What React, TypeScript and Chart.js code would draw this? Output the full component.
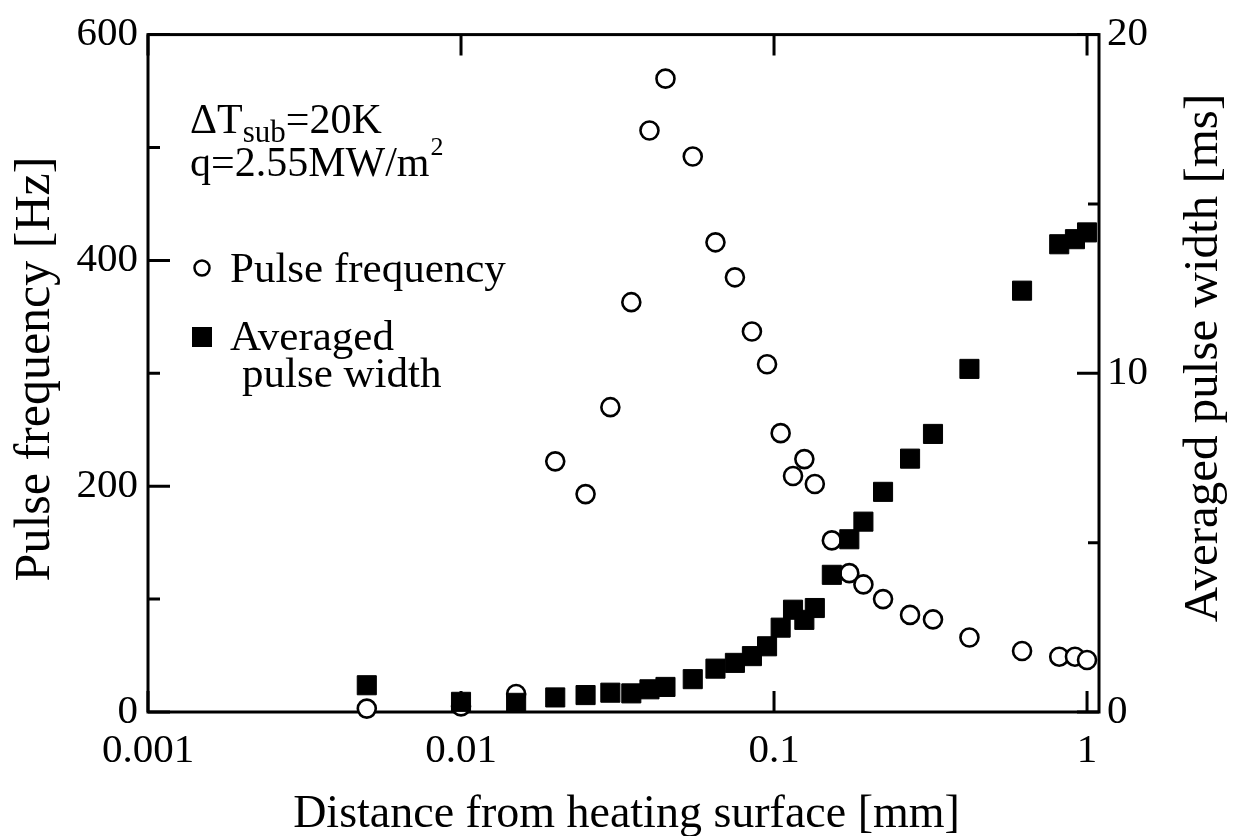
import React, { useEffect, useRef } from 'react';
import { Chart, registerables } from 'chart.js';

Chart.register(...registerables);

// Distance from heating surface [mm]
const distance = [
  0.005, 0.01, 0.015, 0.02, 0.025, 0.03, 0.035, 0.04, 0.045, 0.055,
  0.065, 0.075, 0.085, 0.095, 0.105, 0.115, 0.125, 0.135, 0.153, 0.174,
  0.193, 0.223, 0.272, 0.322, 0.421, 0.62, 0.815, 0.915, 1.0,
];
// Pulse frequency [Hz]
const pulseFrequency = [
  3, 5, 16, 222, 193, 270, 363, 515, 561, 492,
  416, 385, 337, 308, 247, 209, 224, 202, 152, 123,
  113, 100, 86, 82, 66, 54, 49, 49, 46,
];
// Averaged pulse width [ms]
const pulseWidth = [
  0.79, 0.30, 0.27, 0.43, 0.50, 0.57, 0.55, 0.67, 0.74, 0.97,
  1.28, 1.45, 1.65, 1.94, 2.49, 3.02, 2.72, 3.07, 4.05, 5.10,
  5.62, 6.50, 7.48, 8.21, 10.13, 12.44, 13.81, 13.96, 14.16,
];

const xTicks = [0.001, 0.01, 0.1, 1];
const xTickLabels = ['0.001', '0.01', '0.1', '1'];
const leftTicks = [0, 200, 400, 600];
const leftMinorTicks = [100, 300, 500];
const rightTicks = [0, 10, 20];
const rightMinorTicks = [5, 15];

const SERIF = '"Liberation Serif", "Times New Roman", Times, serif';

const framePlugin = {
  id: 'framePlugin',
  beforeDatasetsDraw(chart: any) {
    const { ctx, chartArea, scales } = chart;
    const { left, right, top, bottom } = chartArea;
    ctx.save();
    ctx.strokeStyle = '#000';
    ctx.lineWidth = 3;
    ctx.lineCap = 'butt';
    ctx.strokeRect(left, top, right - left, bottom - top);
    ctx.beginPath();
    xTicks.forEach((v) => {
      const px = scales.x.getPixelForValue(v);
      ctx.moveTo(px, bottom);
      ctx.lineTo(px, bottom - 21);
      ctx.moveTo(px, top);
      ctx.lineTo(px, top + 21);
    });
    leftTicks.forEach((v) => {
      const py = scales.y.getPixelForValue(v);
      ctx.moveTo(left, py);
      ctx.lineTo(left + 22, py);
    });
    leftMinorTicks.forEach((v) => {
      const py = scales.y.getPixelForValue(v);
      ctx.moveTo(left, py);
      ctx.lineTo(left + 12, py);
    });
    rightTicks.forEach((v) => {
      const py = scales.y1.getPixelForValue(v);
      ctx.moveTo(right, py);
      ctx.lineTo(right - 22, py);
    });
    rightMinorTicks.forEach((v) => {
      const py = scales.y1.getPixelForValue(v);
      ctx.moveTo(right, py);
      ctx.lineTo(right - 11, py);
    });
    ctx.stroke();
    ctx.restore();
  },
  afterDraw(chart: any) {
    const { ctx, chartArea } = chart;
    ctx.save();
    ctx.fillStyle = '#000';
    ctx.strokeStyle = '#000';

    // Annotation
    ctx.textAlign = 'left';
    ctx.textBaseline = 'alphabetic';
    let x = 190;
    ctx.font = `42px ${SERIF}`;
    ctx.fillText('ΔT', x, 133);
    x += ctx.measureText('ΔT').width;
    ctx.font = `31px ${SERIF}`;
    ctx.fillText('sub', x, 142);
    x += ctx.measureText('sub').width;
    ctx.font = `42px ${SERIF}`;
    ctx.fillText('=20K', x, 133);

    x = 190;
    ctx.fillText('q=2.55MW/m', x, 176);
    x += ctx.measureText('q=2.55MW/m').width;
    ctx.font = `26px ${SERIF}`;
    ctx.fillText('2', x + 1, 155);

    // Legend
    ctx.lineWidth = 2.5;
    ctx.beginPath();
    ctx.arc(202, 268, 7.5, 0, Math.PI * 2);
    ctx.fillStyle = '#fff';
    ctx.fill();
    ctx.stroke();
    ctx.fillStyle = '#000';
    ctx.fillRect(192, 327, 20, 20);
    ctx.font = `43px ${SERIF}`;
    ctx.fillText('Pulse frequency', 230, 282);
    ctx.fillText('Averaged', 230, 350);
    ctx.fillText('pulse width', 242, 387);

    // Axis titles
    ctx.textAlign = 'center';
    ctx.textBaseline = 'middle';
    ctx.font = `50px ${SERIF}`;
    ctx.save();
    ctx.translate(36, 369);
    ctx.rotate(-Math.PI / 2);
    ctx.fillText('Pulse frequency [Hz]', 0, 0);
    ctx.restore();

    ctx.font = `49px ${SERIF}`;
    ctx.save();
    ctx.translate(1204, 358);
    ctx.rotate(-Math.PI / 2);
    ctx.fillText('Averaged pulse width [ms]', 0, 0);
    ctx.restore();

    ctx.font = `46px ${SERIF}`;
    ctx.textBaseline = 'alphabetic';
    ctx.fillText('Distance from heating surface [mm]', (chartArea.left + chartArea.right) / 2 + 3, 827);
    ctx.restore();
  },
};

export default function App() {
  const canvasRef = useRef<HTMLCanvasElement | null>(null);

  useEffect(() => {
    if (!canvasRef.current) return;
    const tickFont = { family: SERIF, size: 41 };
    const chart = new Chart(canvasRef.current, {
      type: 'scatter',
      data: {
        datasets: [
          {
            label: 'Averaged pulse width',
            data: distance.map((d, i) => ({ x: d, y: pulseWidth[i] })),
            yAxisID: 'y1',
            pointStyle: 'rect',
            pointRadius: 13.5,
            pointHoverRadius: 13.5,
            backgroundColor: '#000',
            borderColor: '#000',
            borderWidth: 1,
            clip: false,
          } as any,
          {
            label: 'Pulse frequency',
            data: distance.map((d, i) => ({ x: d, y: pulseFrequency[i] })),
            yAxisID: 'y',
            pointStyle: 'circle',
            pointRadius: 9,
            pointHoverRadius: 9,
            backgroundColor: '#fff',
            borderColor: '#000',
            borderWidth: 2.6,
            clip: false,
          } as any,
        ],
      },
      options: {
        animation: false,
        responsive: false,
        events: [],
        layout: { padding: { top: 31, left: 0, right: 0, bottom: 0 } },
        plugins: {
          legend: { display: false },
          tooltip: { enabled: false },
        },
        scales: {
          x: {
            type: 'logarithmic',
            position: 'bottom',
            min: 0.001,
            max: 1.092,
            grid: { display: false, drawTicks: false },
            border: { display: false },
            afterBuildTicks: (s: any) => {
              s.ticks = xTicks.map((v) => ({ value: v }));
            },
            afterFit: (s: any) => {
              s.height = 124;
            },
            ticks: {
              autoSkip: false,
              maxRotation: 0,
              padding: 15,
              color: '#000',
              font: tickFont,
              callback: (_v: any, i: number) => xTickLabels[i],
            },
          },
          y: {
            type: 'linear',
            position: 'left',
            min: 0,
            max: 600,
            grid: { display: false, drawTicks: false },
            border: { display: false },
            afterBuildTicks: (s: any) => {
              s.ticks = leftTicks.map((v) => ({ value: v }));
            },
            afterFit: (s: any) => {
              s.width = 148;
            },
            ticks: { padding: 10, color: '#000', font: tickFont },
          },
          y1: {
            type: 'linear',
            position: 'right',
            min: 0,
            max: 20,
            grid: { display: false, drawTicks: false },
            border: { display: false },
            afterBuildTicks: (s: any) => {
              s.ticks = rightTicks.map((v) => ({ value: v }));
            },
            afterFit: (s: any) => {
              s.width = 139;
            },
            ticks: { padding: 8, color: '#000', font: tickFont },
          },
        },
      } as any,
      plugins: [framePlugin],
    });
    return () => chart.destroy();
  }, []);

  return (
    <div style={{ position: 'absolute', left: 0, top: 0, width: 1238, height: 836, background: '#fff' }}>
      <canvas ref={canvasRef} width={1238} height={836} style={{ display: 'block' }} />
    </div>
  );
}
